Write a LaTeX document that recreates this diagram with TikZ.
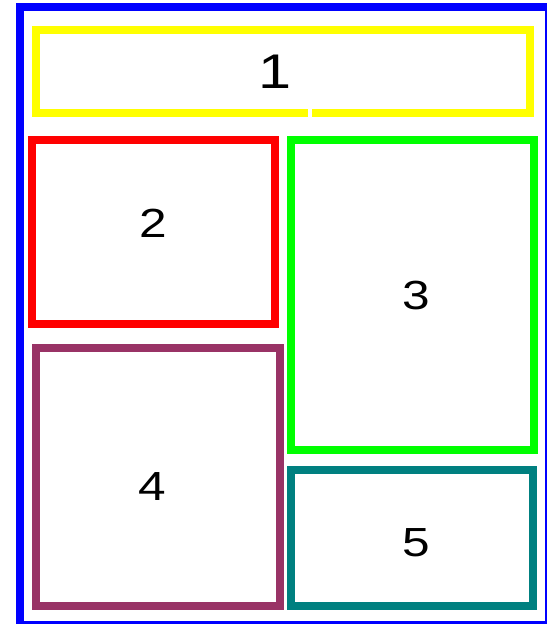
\documentclass[tikz,border=0pt]{standalone}
\usepackage{fontspec}
\setmainfont{Liberation Sans}
\definecolor{frameblue}{HTML}{0000FF}
\definecolor{boxyellow}{HTML}{FFFF00}
\definecolor{boxred}{HTML}{FF0000}
\definecolor{boxgreen}{HTML}{00FF00}
\definecolor{boxplum}{HTML}{993366}
\definecolor{boxteal}{HTML}{008080}
\tikzset{
    panel/.style={line width=6pt},
    num/.style={font=\fontsize{30.5}{30.5}\selectfont, inner sep=0pt, xscale=1.22},
}
\begin{document}
\begin{tikzpicture}[x=0.75pt, y=-0.75pt]
    \useasboundingbox (0,0) rectangle (546,624);
    \draw[panel, frameblue] (20,7) rectangle (549,625);

    \draw[panel, boxyellow] (312,113) -- (530,113) -- (530,30) -- (36,30) -- (36,113) -- (308,113);
    \draw[panel, boxred] (32,140) rectangle (275,324);
    \draw[panel, boxgreen] (291,140) rectangle (534,450);
    \draw[panel, boxplum] (36,348) rectangle (280,606);
    \draw[panel, boxteal] (291,470) rectangle (533,606);

    \node[num, font=\fontsize{36.5}{36.5}\selectfont] (n1) at (275,71.5) {1};
    \node[num] (n2) at (153.5,223) {2};
    \node[num] (n3) at (416,295.5) {3};
    \node[num] (n4) at (152,487) {4};
    \node[num] (n5) at (416,543) {5};
\end{tikzpicture}
\end{document}
